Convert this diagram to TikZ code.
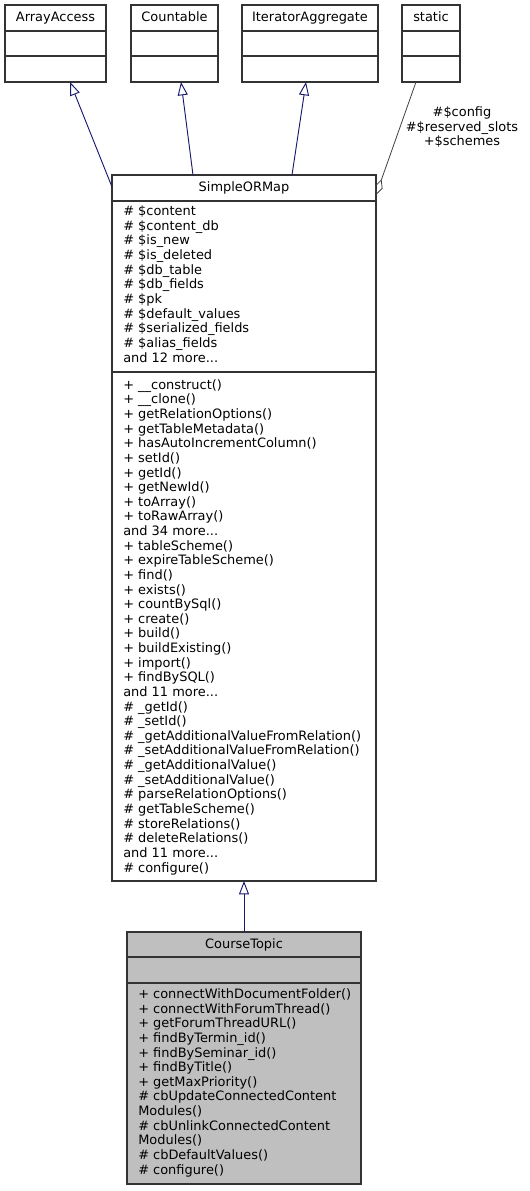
\documentclass[tikz,border=0pt]{standalone}
\usepackage{fontspec}
\setmainfont{DejaVu Sans}
\usetikzlibrary{arrows.meta,positioning,fit}
\definecolor{UmlNavy}{RGB}{25,25,112}
\definecolor{UmlGray}{RGB}{64,64,64}
\definecolor{UmlFill}{RGB}{191,191,191}
\tikzset{
  uml/box/.style={
    draw=black!80,
    line width=0.8pt,
    fill=white,
    inner sep=0pt,
    outer sep=0pt
  },
  uml/title/.style={anchor=base, inner sep=0pt, font=\fontsize{9.7}{11}\selectfont},
  uml/members/.style={
    anchor=base west,
    align=left,
    inner sep=0pt,
    font=\fontsize{9.7}{10.97}\selectfont
  },
  uml/inherit/.style={{Triangle[open,length=10pt,width=7.5pt]}-, line width=0.7pt, draw=UmlNavy},
  uml/usage/.style={{Diamond[open,length=12.5pt,width=6pt]}-, line width=0.6pt, draw=UmlGray},
  uml/label/.style={anchor=base, align=center, inner sep=0pt, font=\fontsize{9.7}{11}\selectfont}
}
\begin{document}
\begin{tikzpicture}[x=0.75pt,y=-0.75pt]
  \useasboundingbox (0,0) rectangle (529,1191);
  % interfaces on top
  \node[uml/box,fit={(5,5) (106,82)}] (arrayaccess) {};
  \node[uml/box,fit={(131,5) (218,82)}] (countable) {};
  \node[uml/box,fit={(242,5) (378,82)}] (iteratoraggregate) {};
  \node[uml/box,fit={(402,5) (460,82)}] (static) {};
  \foreach \cls in {arrayaccess,countable,iteratoraggregate,static} {
    \draw[black!80,line width=0.8pt] (\cls.west |- 0,31) -- (\cls.east |- 0,31);
    \draw[black!80,line width=0.8pt] (\cls.west |- 0,56) -- (\cls.east |- 0,56);
  }
  \node[uml/title] (arrayaccess title) at (arrayaccess.north |- 0,22) {ArrayAccess};
  \node[uml/title] (countable title) at (countable.north |- 0,22) {Countable};
  \node[uml/title] (iteratoraggregate title) at (iteratoraggregate.north |- 0,22) {IteratorAggregate};
  \node[uml/title] (static title) at (static.north |- 0,22) {static};

  % base class
  \node[uml/box,fit={(112,175) (376,881)}] (simpleormap) {};
  \draw[black!80,line width=0.8pt] (simpleormap.west |- 0,201) -- (simpleormap.east |- 0,201);
  \draw[black!80,line width=0.8pt] (simpleormap.west |- 0,372) -- (simpleormap.east |- 0,372);
  \node[uml/title] (simpleormap title) at (simpleormap.north |- 0,192) {SimpleORMap};
  % members are placed by the baseline of their last line
  \node[uml/members] (simpleormap attrs) at (123,362) {%
    \# \$content\\
    \# \$content\_db\\
    \# \$is\_new\\
    \# \$is\_deleted\\
    \# \$db\_table\\
    \# \$db\_fields\\
    \# \$pk\\
    \# \$default\_values\\
    \# \$serialized\_fields\\
    \# \$alias\_fields\\
    and 12 more...};
  \node[uml/members] (simpleormap ops) at (123,872) {%
    + \_\_construct()\\
    + \_\_clone()\\
    + getRelationOptions()\\
    + getTableMetadata()\\
    + hasAutoIncrementColumn()\\
    + setId()\\
    + getId()\\
    + getNewId()\\
    + toArray()\\
    + toRawArray()\\
    and 34 more...\\
    + tableScheme()\\
    + expireTableScheme()\\
    + find()\\
    + exists()\\
    + countBySql()\\
    + create()\\
    + build()\\
    + buildExisting()\\
    + import()\\
    + findBySQL()\\
    and 11 more...\\
    \# \_getId()\\
    \# \_setId()\\
    \# \_getAdditionalValueFromRelation()\\
    \# \_setAdditionalValueFromRelation()\\
    \# \_getAdditionalValue()\\
    \# \_setAdditionalValue()\\
    \# parseRelationOptions()\\
    \# getTableScheme()\\
    \# storeRelations()\\
    \# deleteRelations()\\
    and 11 more...\\
    \# configure()};

  % derived class
  \node[uml/box,fill=UmlFill,fit={(127,932) (361,1184)}] (coursetopic) {};
  \draw[black!80,line width=0.8pt] (coursetopic.west |- 0,957) -- (coursetopic.east |- 0,957);
  \draw[black!80,line width=0.8pt] (coursetopic.west |- 0,983) -- (coursetopic.east |- 0,983);
  \node[uml/title] (coursetopic title) at (coursetopic.north |- 0,948) {CourseTopic};
  \node[uml/members] (coursetopic ops) at (138,1174) {%
    + connectWithDocumentFolder()\\
    + connectWithForumThread()\\
    + getForumThreadURL()\\
    + findByTermin\_id()\\
    + findBySeminar\_id()\\
    + findByTitle()\\
    + getMaxPriority()\\
    \# cbUpdateConnectedContent\\
    Modules()\\
    \# cbUnlinkConnectedContent\\
    Modules()\\
    \# cbDefaultValues()\\
    \# configure()};

  % relations
  \draw[uml/inherit] ([xshift=10.9pt]arrayaccess.south) -- ([yshift=-9pt]simpleormap.north west);
  \draw[uml/inherit] ([xshift=4.9pt]countable.south) -- ([xshift=-38.25pt]simpleormap.north);
  \draw[uml/inherit] ([xshift=-3pt]iteratoraggregate.south) -- ([xshift=36pt]simpleormap.north);
  \draw[uml/usage] ([yshift=-15pt]simpleormap.north east) -- ([xshift=-11.25pt]static.south);
  \node[uml/label] (static label) at (462,146) {\#\$config\\\#\$reserved\_slots\\+\$schemes};
  \draw[uml/inherit] (simpleormap.south) -- (coursetopic.north);
\end{tikzpicture}
\end{document}
